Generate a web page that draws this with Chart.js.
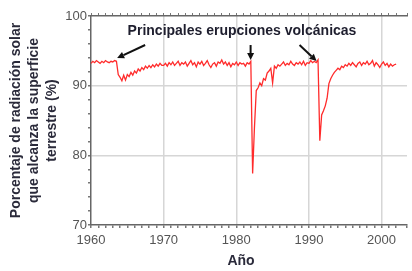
<!DOCTYPE html>
<html>
<head>
<meta charset="utf-8">
<script src="https://cdn.jsdelivr.net/npm/chart.js@4"></script>
<style>
  body { margin: 0; background: #fff; }
  canvas { display: block; }
</style>
</head>
<body>
<canvas id="grafico" width="412" height="271"></canvas>
<script>
// Datos trimestrales (1960.00, 1960.25, ...)
const anioInicio = 1960;
const pasoAnio = 0.25;
const radiacion = [
  93.2, 93.5, 93.3, 93.6,  // 1960
  93.4, 93.2, 93.5, 93.3,  // 1961
  93.6, 93.4, 93.3, 93.5,  // 1962
  93.4, 93.6, 93.5, 91.6,  // 1963
  91.2, 90.7, 91.5, 90.8,  // 1964
  91.6, 91.3, 91.9, 91.5,  // 1965
  92.1, 91.8, 92.4, 92.1,  // 1966
  92.6, 92.3, 92.8, 92.5,  // 1967
  92.9, 92.6, 93.0, 92.7,  // 1968
  93.1, 92.8, 93.2, 92.9,  // 1969
  92.9, 93.2, 92.8, 93.3,  // 1970
  93.0, 93.4, 92.9, 93.2,  // 1971
  93.5, 92.9, 93.3, 93.1,  // 1972
  93.4, 92.8, 93.2, 93.6,  // 1973
  93.0, 93.3, 92.7, 93.4,  // 1974
  93.1, 93.5, 92.9, 93.2,  // 1975
  93.6, 93.0, 92.6, 93.1,  // 1976
  93.3, 92.8, 93.4, 93.2,  // 1977
  93.7, 93.1, 93.4, 92.9,  // 1978
  93.3, 92.7, 93.2, 93.0,  // 1979
  93.4, 92.9, 93.3, 93.1,  // 1980
  93.2, 92.8, 93.3, 93.1,  // 1981
  93.5, 77.4, 84.0, 89.3,  // 1982 El Chichón
  89.7, 90.4, 90.0, 91.0,  // 1983
  90.8, 91.8, 92.1, 92.5,  // 1984
  90.4, 92.8, 92.5, 93.0,  // 1985
  92.8, 93.1, 93.4, 92.9,  // 1986
  93.2, 93.0, 93.5, 93.1,  // 1987
  92.9, 93.3, 93.1, 93.4,  // 1988
  93.0, 93.5, 92.9, 93.3,  // 1989
  93.2, 93.6, 93.3, 93.5,  // 1990
  93.3, 93.7, 82.1, 85.8,  // 1991 Pinatubo
  86.4, 87.1, 88.2, 90.3,  // 1992
  91.0, 91.5, 91.9, 92.2,  // 1993
  92.5, 92.3, 92.8, 92.6,  // 1994
  93.0, 92.8, 93.2, 92.9,  // 1995
  93.3, 93.0, 92.7, 93.2,  // 1996
  93.4, 92.9, 93.3, 93.1,  // 1997
  93.5, 93.0, 93.2, 93.6,  // 1998
  92.8, 93.3, 93.0, 92.6,  // 1999
  93.1, 93.4, 92.9, 93.2,  // 2000
  92.7, 93.1, 92.8, 93.0,  // 2001
  93.1                     // 2002
];

// Flechas: punta [año, valor] y desplazamiento de la cola en px
const flechasPunta = [[1963.6, 93.97], [1981.97, 93.68], [1991.05, 93.54]];
const flechasCola = [[28, -13], [0, -15], [-17, -16]];

const tituloAnotacion = "Principales erupciones volcánicas";
const tituloY = ["Porcentaje de radiación solar", "que alcanza la superficie", "terrestre (%)"];
const tituloX = "Año";

const puntos = radiacion.map((v, i) => ({ x: anioInicio + i * pasoAnio, y: v }));

const fuente = "'Liberation Sans', Arial, sans-serif";

const anotaciones = {
  id: "anotaciones",
  afterDraw(chart) {
    const ctx = chart.ctx;
    const sx = chart.scales.x, sy = chart.scales.y;
    ctx.save();
    // texto
    ctx.fillStyle = "#1e1e2e";
    ctx.font = "bold 14px " + fuente;
    ctx.textAlign = "center";
    ctx.textBaseline = "middle";
    ctx.fillText(tituloAnotacion, 242, 31);
    // título eje x
    ctx.fillStyle = "#2a2a3a";
    ctx.fillText(tituloX, 241, 261);
    // flechas
    ctx.strokeStyle = "#111";
    ctx.fillStyle = "#111";
    ctx.lineWidth = 2;
    flechasPunta.forEach((p, i) => {
      const x2 = sx.getPixelForValue(p[0]);
      const y2 = sy.getPixelForValue(p[1]);
      const x1 = x2 + flechasCola[i][0];
      const y1 = y2 + flechasCola[i][1];
      const ang = Math.atan2(y2 - y1, x2 - x1);
      const largo = 7, ancho = 3.5;
      const bx = x2 - largo * Math.cos(ang), by = y2 - largo * Math.sin(ang);
      ctx.beginPath();
      ctx.moveTo(x1, y1);
      ctx.lineTo(bx, by);
      ctx.stroke();
      ctx.beginPath();
      ctx.moveTo(x2, y2);
      ctx.lineTo(bx + ancho * Math.sin(ang), by - ancho * Math.cos(ang));
      ctx.lineTo(bx - ancho * Math.sin(ang), by + ancho * Math.cos(ang));
      ctx.closePath();
      ctx.fill();
    });
    ctx.restore();
  }
};

new Chart(document.getElementById("grafico"), {
  type: "line",
  data: {
    datasets: [{
      data: puntos,
      borderColor: "#ff2b2b",
      borderWidth: 1.3,
      pointRadius: 0,
      tension: 0,
      fill: false
    }]
  },
  options: {
    responsive: false,
    animation: false,
    devicePixelRatio: 1,
    layout: { padding: { top: 16, right: 0, left: 0, bottom: 0 } },
    plugins: { legend: { display: false }, tooltip: { enabled: false } },
    scales: {
      x: {
        type: "linear",
        min: 1960,
        max: 2003.5,
        afterFit: s => { s.height = 46; },
        border: { display: true, color: "#666", width: 1.5 },
        grid: {
          color: c => (c.tick && c.tick.value % 10 === 0 && c.tick.value > 1960) ? "#d6d6d6" : "rgba(0,0,0,0)",
          lineWidth: 1.5,
          tickColor: "#777",
          tickLength: 3
        },
        ticks: {
          stepSize: 1,
          autoSkip: false,
          maxRotation: 0,
          padding: 5,
          color: "#555",
          font: { family: fuente, size: 13 },
          callback: v => (v % 10 === 0 ? String(v) : "")
        }
      },
      x2: {
        type: "linear",
        position: "top",
        min: 1960,
        max: 2003.5,
        afterFit: s => { s.height = 0; },
        border: { display: true, color: "#666", width: 1.5 },
        grid: { color: "rgba(0,0,0,0)", drawOnChartArea: false, tickColor: "#777", tickLength: 3 },
        ticks: { display: false, stepSize: 1, autoSkip: false }
      },
      y: {
        min: 70,
        max: 100,
        afterFit: s => { s.width = 91; },
        border: { display: true, color: "#666", width: 1.5 },
        grid: {
          color: c => (c.tick && (c.tick.value === 80 || c.tick.value === 90)) ? "#d6d6d6" : "rgba(0,0,0,0)",
          lineWidth: 1.5,
          tickColor: "#777",
          tickLength: 3
        },
        ticks: {
          stepSize: 2,
          autoSkip: false,
          padding: 1,
          color: "#555",
          font: { family: fuente, size: 13 },
          callback: v => (v % 10 === 0 ? String(v) : "")
        },
        title: {
          display: true,
          text: tituloY,
          color: "#2a2a3a",
          font: { family: fuente, size: 14, weight: "bold", lineHeight: 1.3 },
          padding: { top: 7, bottom: 0 }
        }
      }
    }
  },
  plugins: [anotaciones]
});
</script>
</body>
</html>
